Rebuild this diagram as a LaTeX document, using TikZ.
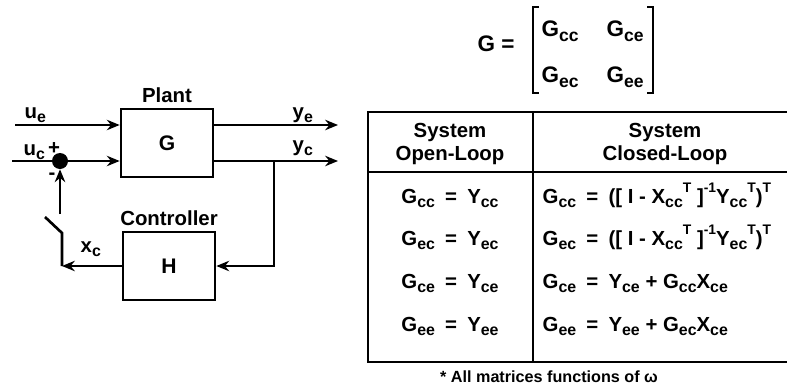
\documentclass[tikz,border=0pt]{standalone}
\usepackage{fontspec}
\setmainfont{Liberation Sans}
\usetikzlibrary{arrows.meta,positioning}
\tikzset{>={Stealth[length=3.2mm,width=2.6mm]},
  blk/.style={draw,line width=1.9pt,minimum width=2.3cm,minimum height=1.7cm,font=\fontsize{15}{17}\selectfont\bfseries},
  wire/.style={line width=1.9pt},
  tbl/.style={line width=2pt},
  lbl/.style={font=\fontsize{14.5}{17}\selectfont\bfseries,inner sep=1pt},
  mat/.style={font=\fontsize{16}{18}\selectfont\bfseries,inner sep=1pt},
  hdr/.style={font=\fontsize{14.5}{16}\selectfont\bfseries,align=center},
  cell/.style={font=\fontsize{14.5}{17}\selectfont\bfseries,inner sep=1pt}}
\newcommand{\lsub}[1]{\raisebox{-0.45ex}{\scalebox{0.78}{#1}}}
\newcommand{\lsup}[1]{\raisebox{0.95ex}{\scalebox{0.68}{#1}}}
\newcommand{\eqs}{\hspace{0.5em}=\hspace{0.5em}}

\begin{document}
\begin{tikzpicture}[x=0.025cm,y=-0.025cm]
\useasboundingbox (0,0) rectangle (787,387);

% ================= LEFT: plant with controller loop =================
\node[blk] (plant) at (167,143) {G};
\node[blk] (ctrl) at (169,266) {H};
\node[lbl,above=2pt of plant] (plantlbl) {Plant};
\node[lbl,above=2pt of ctrl] (ctrllbl) {Controller};
\node[circle,fill,inner sep=0pt,minimum size=0.4cm] (sum) at (60,161) {};

\coordinate (uein) at (15,125);
\coordinate (ucin) at (12,161);
\coordinate (yeout) at (338,125);
\coordinate (ycout) at (338,161);
\coordinate (fb) at (274,161);
\coordinate (swlo) at (62,233);
\coordinate (swend) at (45,217);
\coordinate (swtop) at (60,214);

\draw[wire,->] (uein) -- (uein -| plant.west);
\draw[wire] (ucin) -- (sum);
\draw[wire,->] (sum) -- (sum -| plant.west);
\draw[wire,->] (yeout -| plant.east) -- (yeout);
\draw[wire,->] (ycout -| plant.east) -- (ycout);
\draw[wire,->] (fb) |- (ctrl.east);
\draw[wire,->] (ctrl.west) -- (swlo |- ctrl.west);
\draw[wire] (swlo |- ctrl.west) -- (swlo) -- (swend);
\draw[wire,->] (swtop) -- (sum);

\node[lbl,anchor=base west] (uelbl) at (23,118) {u\lsub{e}};
\node[lbl,anchor=base west] (uclbl) at (22,155) {u\lsub{c}};
\node[lbl] (plus) at (54,149) {+};
\node[lbl] (minus) at (52,176) {-};
\node[lbl,anchor=base west] (xclbl) at (79,252) {x\lsub{c}};
\node[lbl,anchor=base west] (yelbl) at (291,118) {y\lsub{e}};
\node[lbl,anchor=base west] (yclbl) at (291,151) {y\lsub{c}};

% ================= TOP RIGHT: partitioned plant =================
\node[mat] (gname) at (496,44) {G =};
\node[mat,anchor=west] (m11) at (540,31) {G\lsub{cc}};
\node[mat,anchor=west] (m12) at (605,31) {G\lsub{ce}};
\node[mat,anchor=west] (m21) at (540,77) {G\lsub{ec}};
\node[mat,anchor=west] (m22) at (605,77) {G\lsub{ee}};
\draw[line width=1.2pt] (539,7) -- (533,7) -- (533,93) -- (539,93);
\draw[line width=1.2pt] (647,7) -- (653,7) -- (653,93) -- (647,93);

% ================= table =================
\draw[tbl] (787,112) -- (368,112) -- (368,362) -- (787,362);
\draw[tbl] (368,172) -- (787,172);
\draw[tbl] (533,112) -- (533,362);
\node[hdr] (hol) at (450,144) {System\\Open-Loop};
\node[hdr] (hcl) at (665,144) {System\\Closed-Loop};

\node[cell,anchor=base] (ol1) at (450,203) {G\lsub{cc}\eqs Y\lsub{cc}};
\node[cell,anchor=base] (ol2) at (450,245) {G\lsub{ec}\eqs Y\lsub{ec}};
\node[cell,anchor=base] (ol3) at (450,288) {G\lsub{ce}\eqs Y\lsub{ce}};
\node[cell,anchor=base] (ol4) at (450,331) {G\lsub{ee}\eqs Y\lsub{ee}};

\node[cell,anchor=base west] (cl1) at (541,203) {G\lsub{cc}\eqs ([ I - X\lsub{cc}\lsup{T} ]\lsup{-1}Y\lsub{cc}\lsup{T})\lsup{T}};
\node[cell,anchor=base west] (cl2) at (541,245) {G\lsub{ec}\eqs ([ I - X\lsub{cc}\lsup{T} ]\lsup{-1}Y\lsub{ec}\lsup{T})\lsup{T}};
\node[cell,anchor=base west] (cl3) at (541,288) {G\lsub{ce}\eqs Y\lsub{ce} + G\lsub{cc}X\lsub{ce}};
\node[cell,anchor=base west] (cl4) at (541,331) {G\lsub{ee}\eqs Y\lsub{ee} + G\lsub{ec}X\lsub{ce}};

\node[font=\fontsize{11.5}{13}\selectfont\bfseries] (note) at (549,377) {* All matrices functions of ω};

\end{tikzpicture}
\end{document}
